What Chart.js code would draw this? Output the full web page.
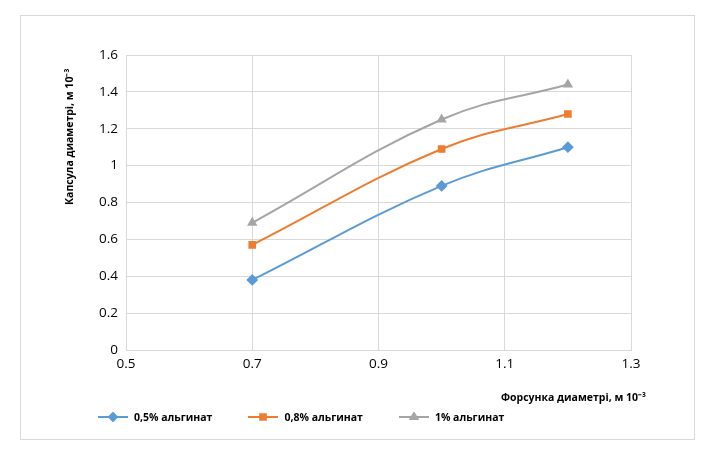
<!DOCTYPE html>
<html lang="uk">
<head>
<meta charset="UTF-8">
<script src="https://cdn.jsdelivr.net/npm/chart.js"></script>
<style>
    body { margin: 0; background: #fff; font-family: "Open Sans", sans-serif; }
    #box { position: absolute; left: 20px; top: 15px; width: 675px; height: 425px; border: 1px solid #d9d9d9; box-sizing: border-box; }
    #wrap { position: absolute; left: 0; top: 0; width: 673px; height: 423px; }
    .ytitle { position: absolute; left: 62px; top: 205px; transform: rotate(-90deg); transform-origin: left top; font-size: 10.5px; font-weight: bold; color: #000; white-space: nowrap; }
    .xtitle { position: absolute; left: 501px; top: 390px; font-size: 10.5px; font-weight: bold; color: #000; white-space: nowrap; }
    #legend { position: absolute; left: 98px; top: 410px; font-size: 10.5px; font-weight: bold; display: flex; gap: 36px; }
    #legend span.item { display: flex; align-items: center; gap: 6px; }
</style>
</head>
<body>
<div id="box"><div id="wrap"><canvas id="c"></canvas></div></div>
<div class="ytitle">Капсула диаметрі,  м 10⁻³</div>
<div class="xtitle">Форсунка диаметрі, м 10⁻³</div>
<div id="legend"></div>
<script>
    // data
    var nozzle = [0.7, 1.0, 1.2];
    var alg05 = [0.38, 0.89, 1.10];
    var alg08 = [0.57, 1.09, 1.28];
    var alg1 = [0.69, 1.25, 1.44];
    var names = ['0,5% альгинат', '0,8% альгинат', '1% альгинат'];
    var colors = ['#5b9bd5', '#ed7d31', '#a5a5a5'];
    var styles = ['rectRot', 'rect', 'triangle'];

    function pts(ys) { return nozzle.map(function (x, i) { return {x: x, y: ys[i]}; }); }

    var series = [alg05, alg08, alg1];
    var datasets = series.map(function (s, i) {
        return {
            label: names[i], data: pts(s), showLine: true, tension: 0.4,
            borderColor: colors[i], backgroundColor: colors[i], borderWidth: 2,
            pointStyle: styles[i], pointRadius: i == 0 ? 4.5 : 4
        };
    });

    var tickFont = {size: 13.5, family: '"Open Sans", sans-serif'};
    new Chart(document.getElementById('c'), {
        type: 'scatter',
        data: {datasets: datasets},
        options: {
            responsive: true, maintainAspectRatio: false, animation: false,
            layout: {padding: {top: 39, right: 63, bottom: 0, left: 0}},
            plugins: {legend: {display: false}, tooltip: {enabled: false}},
            scales: {
                x: {
                    min: 0.5, max: 1.3,
                    ticks: {stepSize: 0.2, color: '#000', font: tickFont, padding: 6,
                        callback: function (v) { return Math.round(v * 10) / 10; }},
                    grid: {color: '#d9d9d9', drawTicks: false},
                    border: {color: '#d9d9d9'},
                    afterFit: function (s) { s.height = 89; }
                },
                y: {
                    min: 0, max: 1.6,
                    ticks: {stepSize: 0.2, color: '#000', font: tickFont, padding: 8,
                        callback: function (v) { return Math.round(v * 10) / 10; }},
                    grid: {color: '#d9d9d9', drawTicks: false},
                    border: {display: false},
                    afterFit: function (s) { s.width = 105; }
                }
            }
        }
    });

    var lg = document.getElementById('legend');
    names.forEach(function (n, i) {
        var c = document.createElement('canvas');
        c.width = 30; c.height = 10;
        var g = c.getContext('2d');
        g.strokeStyle = colors[i]; g.fillStyle = colors[i]; g.lineWidth = 2;
        g.beginPath(); g.moveTo(0, 5); g.lineTo(30, 5); g.stroke();
        Chart.helpers.drawPoint(g, {pointStyle: styles[i], radius: 4, borderWidth: 1}, 15, 5);
        g.fill();
        var it = document.createElement('span');
        it.className = 'item';
        it.appendChild(c);
        it.appendChild(document.createTextNode(n));
        lg.appendChild(it);
    });
</script>
</body>
</html>
